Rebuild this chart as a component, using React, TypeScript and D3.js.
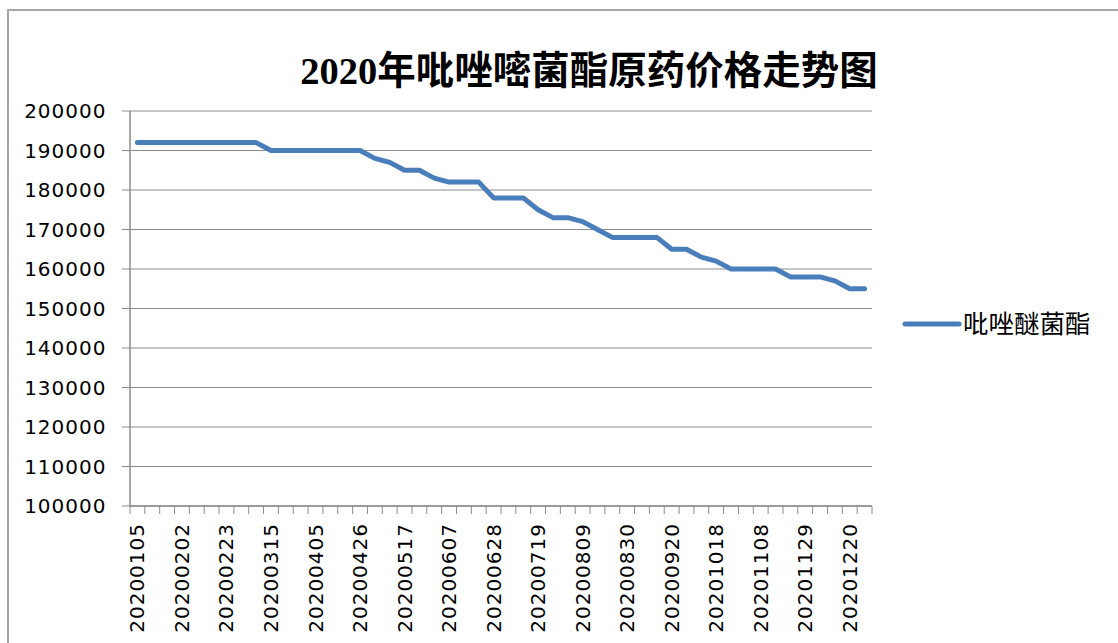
import React from 'react';
import * as d3 from 'd3';

const dates = [
  '20200105', '20200112', '20200119', '20200202', '20200209', '20200216', '20200223', '20200301',
  '20200308', '20200315', '20200322', '20200329', '20200405', '20200412', '20200419', '20200426',
  '20200503', '20200510', '20200517', '20200524', '20200531', '20200607', '20200614', '20200621',
  '20200628', '20200705', '20200712', '20200719', '20200726', '20200802', '20200809', '20200816',
  '20200823', '20200830', '20200906', '20200913', '20200920', '20200927', '20201011', '20201018',
  '20201025', '20201101', '20201108', '20201115', '20201122', '20201129', '20201206', '20201213',
  '20201220', '20201227'
];

const prices = [
  192000, 192000, 192000, 192000, 192000, 192000, 192000, 192000,
  192000, 190000, 190000, 190000, 190000, 190000, 190000, 190000,
  188000, 187000, 185000, 185000, 183000, 182000, 182000, 182000,
  178000, 178000, 178000, 175000, 173000, 173000, 172000, 170000,
  168000, 168000, 168000, 168000, 165000, 165000, 163000, 162000,
  160000, 160000, 160000, 160000, 158000, 158000, 158000, 157000,
  155000, 155000
];

const yTicks = [100000, 110000, 120000, 130000, 140000, 150000, 160000, 170000, 180000, 190000, 200000];

const seriesName = '吡唑醚菌酯';
const title = '2020年吡唑嘧菌酯原药价格走势图';

const W = 1118;
const H = 643;
const left = 130;
const right = 872;
const top = 111;
const bottom = 506;
const lineColor = '#4a7ebb';
const gridColor = '#8c8c8c';
const labelFont = "'DejaVu Sans', Verdana, sans-serif";

export default function App() {
  const x = d3.scaleBand<string>().domain(dates).range([left, right]).padding(0);
  const y = d3.scaleLinear().domain([100000, 200000]).range([bottom, top]);
  const bw = x.bandwidth();

  const line = d3
    .line<number>()
    .x((_, i) => (x(dates[i]) as number) + bw / 2)
    .y((d) => y(d));

  const boundaries = d3.range(dates.length + 1).map((k) => left + k * bw);

  return (
    <div style={{ position: 'absolute', left: 0, top: 0 }}>
      <svg width={W} height={H} style={{ display: 'block', background: '#fff' }}>
        {/* chart border */}
        <rect x={8} y={10} width={W + 20} height={H + 20} fill="#fff" stroke="#a6a6a6" strokeWidth={2} />

        <text
          x={589}
          y={84}
          textAnchor="middle"
          fontFamily="'Liberation Serif', 'Noto Sans CJK SC', serif"
          fontWeight="bold"
          fontSize={38.5}
          fill="#000"
        >
          {title}
        </text>

        {/* gridlines + y ticks */}
        {yTicks.map((t) => (
          <g key={t}>
            <line x1={left - 8} x2={right} y1={y(t)} y2={y(t)} stroke={gridColor} strokeWidth={1} />
            <text
              x={106.5}
              y={y(t)}
              textAnchor="end"
              dominantBaseline="central"
              fontFamily={labelFont}
              fontSize={20}
              letterSpacing={1}
              fill="#000"
            >
              {t}
            </text>
          </g>
        ))}

        {/* axes */}
        <line x1={left} x2={left} y1={top} y2={bottom} stroke={gridColor} strokeWidth={1.5} />
        <line x1={left} x2={right} y1={bottom} y2={bottom} stroke={gridColor} strokeWidth={1.5} />
        {boundaries.map((bx, k) => (
          <line key={k} x1={bx} x2={bx} y1={bottom} y2={bottom + 8} stroke={gridColor} strokeWidth={1} />
        ))}

        {dates.map((d, i) =>
          i % 3 === 0 ? (
            <text
              key={d}
              transform={`translate(${(x(d) as number) + bw / 2},${523}) rotate(-90)`}
              textAnchor="end"
              dominantBaseline="central"
              fontFamily={labelFont}
              fontSize={20}
              letterSpacing={1}
              fill="#000"
            >
              {d}
            </text>
          ) : null
        )}

        <path
          d={line(prices) || ''}
          fill="none"
          stroke={lineColor}
          strokeWidth={5}
          strokeLinejoin="round"
          strokeLinecap="round"
        />

        {/* legend */}
        <line x1={905} x2={959} y1={324} y2={324} stroke={lineColor} strokeWidth={5} strokeLinecap="round" />
        <text
          x={963}
          y={321}
          dominantBaseline="central"
          fontFamily="'Noto Sans CJK SC', sans-serif"
          fontSize={25.5}
          fill="#000"
        >
          {seriesName}
        </text>
      </svg>
    </div>
  );
}
